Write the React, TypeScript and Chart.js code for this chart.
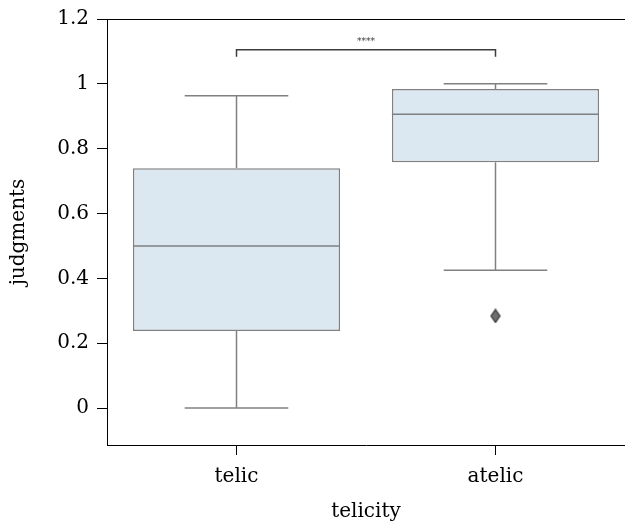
import React, { useEffect, useRef } from 'react';
import { Chart, registerables } from 'chart.js';

Chart.register(...registerables);

const categories = ['telic', 'atelic'];
const whiskerLow = [0, 0.425];
const q1s = [0.238, 0.758];
const medians = [0.5, 0.906];
const q3s = [0.74, 0.984];
const whiskerHigh = [0.963, 1.0];
const outliers = [null, 0.284];
const yTickValues = [0, 0.2, 0.4, 0.6, 0.8, 1, 1.2];
const bracketY = 1.105;
const bracketLabel = '****';

const FONT = '"DejaVu Serif", serif';
const BOX_FILL = 'rgb(219,232,242)';
const LINE_GRAY = 'rgb(128,128,128)';

function makeDiamond() {
  const c = document.createElement('canvas');
  const w = 12, h = 15;
  c.width = w; c.height = h;
  const ctx = c.getContext('2d')!;
  ctx.beginPath();
  ctx.moveTo(w / 2, 1);
  ctx.lineTo(w - 1.5, h / 2);
  ctx.lineTo(w / 2, h - 1);
  ctx.lineTo(1.5, h / 2);
  ctx.closePath();
  ctx.fillStyle = 'rgb(110,110,110)';
  ctx.fill();
  ctx.strokeStyle = 'rgb(50,50,50)';
  ctx.lineWidth = 1.2;
  ctx.stroke();
  return c;
}

const boxPlugin = {
  id: 'boxExtras',
  afterDatasetsDraw(chart: any) {
    const { ctx, scales, chartArea } = chart;
    const x = scales.x;
    const y = scales.y;
    const catW = x.getPixelForValue(1) - x.getPixelForValue(0);
    const boxW = catW * 0.8;
    const capW = boxW / 2;
    ctx.save();
    ctx.strokeStyle = LINE_GRAY;
    ctx.lineWidth = 1.5;
    categories.forEach((_, i) => {
      const cx = x.getPixelForValue(i);
      const line = (x1: number, y1: number, x2: number, y2: number) => {
        ctx.beginPath();
        ctx.moveTo(x1, y1);
        ctx.lineTo(x2, y2);
        ctx.stroke();
      };
      // whiskers
      line(cx, y.getPixelForValue(q3s[i]), cx, y.getPixelForValue(whiskerHigh[i]));
      line(cx, y.getPixelForValue(q1s[i]), cx, y.getPixelForValue(whiskerLow[i]));
      line(cx - capW / 2, y.getPixelForValue(whiskerHigh[i]), cx + capW / 2, y.getPixelForValue(whiskerHigh[i]));
      line(cx - capW / 2, y.getPixelForValue(whiskerLow[i]), cx + capW / 2, y.getPixelForValue(whiskerLow[i]));
      // median
      line(cx - boxW / 2, y.getPixelForValue(medians[i]), cx + boxW / 2, y.getPixelForValue(medians[i]));
    });
    // significance bracket
    const bx1 = x.getPixelForValue(0);
    const bx2 = x.getPixelForValue(1);
    const by = y.getPixelForValue(bracketY);
    ctx.strokeStyle = 'rgb(60,60,60)';
    ctx.lineWidth = 1.5;
    ctx.beginPath();
    ctx.moveTo(bx1, by + 7);
    ctx.lineTo(bx1, by);
    ctx.lineTo(bx2, by);
    ctx.lineTo(bx2, by + 7);
    ctx.stroke();
    ctx.fillStyle = 'rgb(60,60,60)';
    ctx.font = '9px ' + FONT;
    ctx.textAlign = 'center';
    ctx.textBaseline = 'alphabetic';
    ctx.fillText(bracketLabel, (bx1 + bx2) / 2, by - 6);
    // top frame line
    ctx.strokeStyle = '#000';
    ctx.lineWidth = 1;
    ctx.beginPath();
    ctx.moveTo(chartArea.left, chartArea.top + 0.5);
    ctx.lineTo(chartArea.right, chartArea.top + 0.5);
    ctx.stroke();
    ctx.restore();
  },
};

export default function App() {
  const ref = useRef<HTMLCanvasElement>(null);
  useEffect(() => {
    const canvas = ref.current!;
    const chart = new Chart(canvas, {
      type: 'bar',
      data: {
        labels: categories,
        datasets: [
          {
            type: 'line',
            data: outliers as any,
            showLine: false,
            pointStyle: makeDiamond() as any,
            pointRadius: 6,
            order: 0,
          } as any,
          {
            type: 'bar',
            data: categories.map((_, i) => [q1s[i], q3s[i]]) as any,
            backgroundColor: BOX_FILL,
            borderColor: LINE_GRAY,
            borderWidth: 1.5,
            borderSkipped: false,
            barPercentage: 0.8,
            categoryPercentage: 1,
            order: 1,
          },
        ],
      },
      options: {
        responsive: false,
        animation: false,
        layout: { autoPadding: false, padding: { top: 19, left: 0, right: 0, bottom: 0 } },
        plugins: { legend: { display: false }, tooltip: { enabled: false } },
        scales: {
          x: {
            offset: true,
            grid: {
              offset: false,
              drawOnChartArea: false,
              drawTicks: true,
              tickLength: 10,
              tickColor: '#000',
              tickWidth: 1,
            },
            border: { display: true, color: '#000', width: 1 },
            ticks: { color: '#000', font: { family: FONT, size: 20 }, padding: 10 },
            title: {
              display: true,
              text: 'telicity',
              color: '#000',
              font: { family: FONT, size: 20 },
              padding: { top: 0, bottom: 3 },
            },
            afterFit(scale: any) {
              scale.height = 82;
              scale.paddingLeft = 0;
              scale.paddingRight = 0;
            },
          },
          y: {
            min: -0.114,
            max: 1.2,
            afterBuildTicks(scale: any) {
              scale.ticks = yTickValues.map((v) => ({ value: v }));
            },
            grid: {
              drawOnChartArea: false,
              drawTicks: true,
              tickLength: 10,
              tickColor: '#000',
              tickWidth: 1,
            },
            border: { display: true, color: '#000', width: 1 },
            ticks: {
              color: '#000',
              font: { family: FONT, size: 20 },
              padding: 8,
              callback: (v: any) => String(Number(Number(v).toFixed(1))),
            },
            title: {
              display: true,
              text: 'judgments',
              color: '#000',
              font: { family: FONT, size: 20 },
              padding: { top: 7, bottom: 0 },
            },
            afterFit(scale: any) {
              scale.width = 107;
              scale.paddingTop = 0;
              scale.paddingBottom = 0;
            },
          },
        },
      },
      plugins: [boxPlugin],
    });
    return () => chart.destroy();
  }, []);
  return (
    <div style={{ position: 'absolute', left: 0, top: 0, width: 625, height: 527, background: '#fff' }}>
      <canvas ref={ref} width={625} height={527} />
    </div>
  );
}
